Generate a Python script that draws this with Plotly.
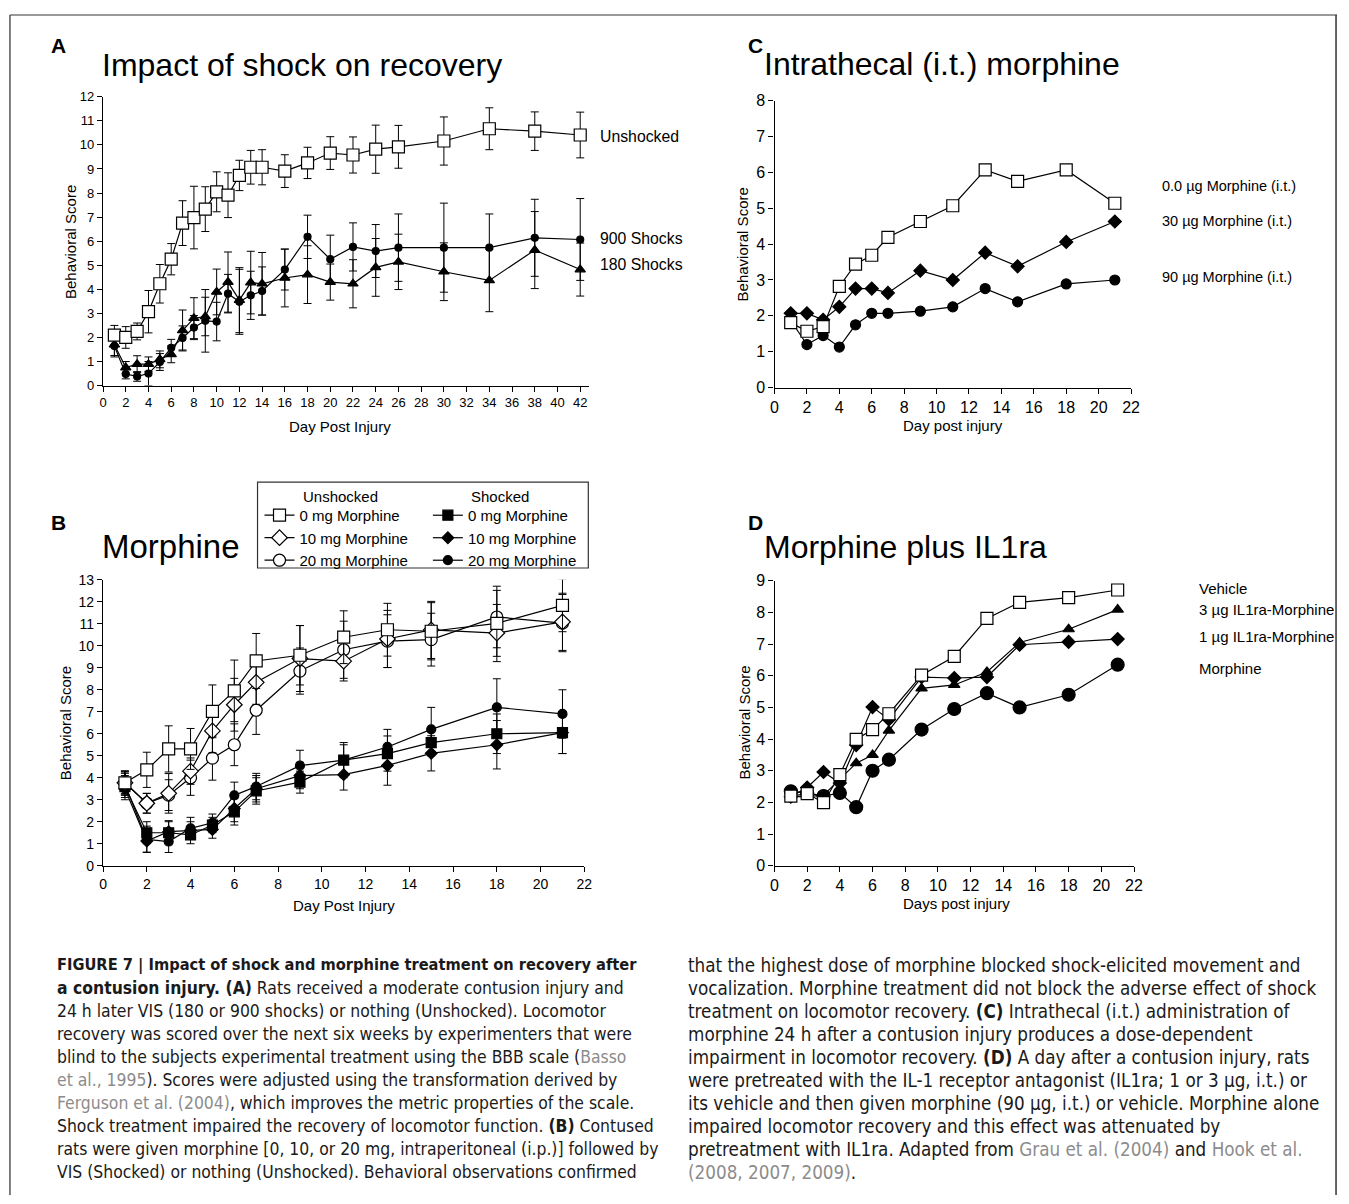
import plotly.graph_objects as go

W, H = 1349, 1204

def px(x):
    return x / W

def py(y):
    return 1 - y / H

# ---------------- DATA ----------------
# Panel A
A_days = [1, 2, 3, 4, 5, 6, 7, 8, 9, 10, 11, 12, 13, 14, 16, 18, 20, 22, 24, 26, 30, 34, 38, 42]
A_unshocked = [2.1, 2.0, 2.25, 3.07, 4.23, 5.25, 6.75, 6.98, 7.33, 8.05, 7.91, 8.73, 9.07, 9.07,
               8.91, 9.25, 9.66, 9.58, 9.82, 9.92, 10.16, 10.67, 10.57, 10.41]
A_unshocked_err = [0.4, 0.45, 0.35, 0.88, 0.8, 0.65, 0.93, 1.3, 0.93, 0.83, 0.93, 0.63, 0.7, 0.73,
                   0.68, 0.65, 0.68, 0.75, 1.0, 0.89, 1.0, 0.87, 0.8, 0.95]
A_900 = [1.64, 0.48, 0.38, 0.5, 0.98, 1.57, 1.98, 2.41, 2.69, 2.66, 3.82, 3.48, 3.75, 3.93,
         4.82, 6.18, 5.25, 5.76, 5.59, 5.73, 5.73, 5.73, 6.14, 6.07]
A_900_err = [0.45, 0.2, 0.2, 0.5, 0.35, 0.35, 0.5, 0.5, 1.3, 0.8, 0.8, 1.35, 1.0, 1.0,
             0.85, 0.9, 1.0, 1.0, 1.1, 1.4, 1.85, 1.4, 1.6, 1.7]
A_180 = [1.7, 0.75, 0.89, 0.89, 1.09, 1.3, 2.29, 2.8, 2.87, 3.89, 4.3, 3.55, 4.28, 4.23,
         4.47, 4.61, 4.3, 4.23, 4.91, 5.14, 4.73, 4.37, 5.63, 4.82]
A_180_err = [0.45, 0.25, 0.35, 0.3, 0.35, 0.35, 0.85, 0.85, 0.8, 0.95, 1.25, 1.35, 1.3, 1.3,
             1.2, 1.2, 0.75, 1.0, 1.2, 1.15, 1.2, 1.3, 1.6, 1.1]
A_xticks = list(range(0, 43, 2))
A_yticks = list(range(0, 13))

# Panel B
B_days = [1, 2, 3, 4, 5, 6, 7, 9, 11, 13, 15, 18, 21]
B_un0 = [3.77, 4.36, 5.31, 5.31, 7.02, 7.95, 9.31, 9.57, 10.39, 10.73, 10.66, 11.02, 11.84]
B_un0_err = [0.55, 0.8, 1.05, 0.93, 1.2, 1.4, 1.25, 1.35, 1.2, 1.2, 1.3, 1.5, 1.2]
B_un10 = [3.77, 2.84, 3.29, 4.3, 6.13, 7.32, 8.34, 9.42, 9.3, 10.31, 10.72, 10.58, 11.09]
B_un10_err = [0.5, 0.45, 0.9, 0.6, 1.0, 1.2, 1.0, 1.5, 0.9, 1.3, 1.3, 1.3, 1.3]
B_un20 = [3.77, 2.84, 3.21, 4.0, 4.89, 5.5, 7.07, 8.85, 9.82, 10.21, 10.28, 11.31, 11.03]
B_un20_err = [0.5, 0.45, 0.7, 0.8, 1.0, 0.95, 1.1, 1.05, 1.3, 1.2, 1.2, 1.4, 1.3]
B_sh0 = [3.6, 1.5, 1.5, 1.4, 1.85, 2.45, 3.4, 3.8, 4.8, 5.1, 5.6, 6.0, 6.05]
B_sh0_err = [0.5, 0.5, 0.5, 0.4, 0.35, 0.6, 0.6, 0.5, 0.7, 0.8, 0.6, 0.9, 0.95]
B_sh10 = [3.5, 1.12, 1.55, 1.6, 1.65, 2.6, 3.5, 4.1, 4.14, 4.56, 5.11, 5.5, 6.05]
B_sh10_err = [0.5, 0.5, 0.5, 0.4, 0.4, 0.6, 0.6, 0.6, 0.7, 0.9, 0.8, 1.1, 0.95]
B_sh20 = [3.7, 1.2, 1.1, 1.7, 1.95, 3.2, 3.6, 4.55, 4.8, 5.4, 6.2, 7.2, 6.9]
B_sh20_err = [0.5, 0.6, 0.5, 0.5, 0.4, 0.6, 0.6, 0.7, 0.8, 0.8, 1.0, 1.3, 1.1]
B_xticks = list(range(0, 23, 2))
B_yticks = list(range(0, 14))

# Panel C
C_days = [1, 2, 3, 4, 5, 6, 7, 9, 11, 13, 15, 18, 21]
C_0 = [1.81, 1.57, 1.7, 2.82, 3.44, 3.69, 4.19, 4.63, 5.07, 6.07, 5.75, 6.07, 5.14]
C_30 = [2.07, 2.07, 1.89, 2.25, 2.76, 2.76, 2.64, 3.26, 3.0, 3.76, 3.38, 4.06, 4.63]
C_90 = [1.87, 1.2, 1.45, 1.13, 1.75, 2.07, 2.07, 2.13, 2.25, 2.76, 2.39, 2.89, 3.0]
C_xticks = list(range(0, 23, 2))
C_yticks = list(range(0, 9))

# Panel D
D_days = [1, 2, 3, 4, 5, 6, 7, 9, 11, 13, 15, 18, 21]
D_vehicle = [2.2, 2.28, 1.99, 2.88, 3.99, 4.3, 4.8, 6.02, 6.61, 7.81, 8.32, 8.47, 8.71]
D_3ug = [2.18, 2.18, 2.23, 2.72, 3.24, 3.5, 4.27, 5.6, 5.71, 6.12, 7.05, 7.47, 8.09]
D_1ug = [2.18, 2.47, 2.96, 2.61, 3.81, 5.01, 4.62, 5.96, 5.93, 5.96, 6.98, 7.07, 7.16]
D_morph = [2.35, 2.3, 2.2, 2.3, 1.85, 3.0, 3.35, 4.3, 4.95, 5.45, 5.0, 5.4, 6.35]
D_xticks = list(range(0, 23, 2))
D_yticks = list(range(0, 10))

# ---------------- FIGURE ----------------
FONT = "Liberation Sans, Arial, Helvetica, sans-serif"
CAP_FONT = "Liberation Sans Narrow, Arial Narrow, DejaVu Sans Condensed, Liberation Sans, sans-serif"
fig = go.Figure()


def add(x, y, ax, symbol, filled, size, err=None, name=None, legend=None):
    marker = dict(symbol=symbol, size=size,
                  color="black" if filled else "white",
                  line=dict(color="black", width=1.2))
    kw = {}
    if err is not None:
        kw["error_y"] = dict(type="data", array=err, visible=True, color="black",
                             thickness=1, width=4)
    fig.add_trace(go.Scatter(
        x=x, y=y, mode="lines+markers", xaxis="x" + ax, yaxis="y" + ax,
        line=dict(color="black", width=1.2), marker=marker, cliponaxis=False,
        name=name or "", showlegend=legend is not None,
        legend=legend if legend else "legend", **kw))


# Panel A (axes x1/y1)
add(A_days, A_180, "", "triangle-up", True, 9, A_180_err)
add(A_days, A_900, "", "circle", True, 7, A_900_err)
add(A_days, A_unshocked, "", "square", False, 12, A_unshocked_err)

# Panel B (axes x2/y2)
add(B_days, B_sh0, "2", "square", True, 10, B_sh0_err, "0 mg Morphine", "legend2")
add(B_days, B_sh10, "2", "diamond", True, 9, B_sh10_err, "10 mg Morphine", "legend2")
add(B_days, B_sh20, "2", "circle", True, 9, B_sh20_err, "20 mg Morphine", "legend2")
add(B_days, B_un20, "2", "circle", False, 12, B_un20_err, "20 mg Morphine", "legend")
add(B_days, B_un10, "2", "diamond", False, 12, B_un10_err, "10 mg Morphine", "legend")
add(B_days, B_un0, "2", "square", False, 12, B_un0_err, "0 mg Morphine", "legend")

# Panel C (axes x3/y3)
add(C_days, C_90, "3", "circle", True, 10)
add(C_days, C_30, "3", "diamond", True, 10)
add(C_days, C_0, "3", "square", False, 12)

# Panel D (axes x4/y4)
add(D_days, D_morph, "4", "circle", True, 13)
add(D_days, D_1ug, "4", "diamond", True, 10)
add(D_days, D_3ug, "4", "triangle-up", True, 10)
add(D_days, D_vehicle, "4", "square", False, 12)


def axis(domain, rng, ticks, size):
    return dict(domain=domain, range=rng, tickvals=ticks, ticktext=[str(t) for t in ticks],
                showline=True, linecolor="black", linewidth=1.2, ticks="outside",
                ticklen=5, tickwidth=1.2, tickcolor="black", showgrid=False,
                zeroline=False, tickfont=dict(family=FONT, size=size, color="black"),
                fixedrange=True)


layout = dict(
    width=W, height=H, autosize=False,
    margin=dict(l=0, r=0, t=0, b=0),
    paper_bgcolor="white", plot_bgcolor="white",
    font=dict(family=FONT, color="black"),
    xaxis=axis([px(100), px(591)], [0, 42.8], A_xticks, 13),
    yaxis=axis([py(383), py(90)], [0, 12], A_yticks, 13),
    xaxis2=axis([px(100), px(586)], [0, 22], B_xticks, 14),
    yaxis2=axis([py(870), py(580)], [0, 13], B_yticks, 14),
    xaxis3=axis([px(778), px(1138)], [0, 22], C_xticks, 16),
    yaxis3=axis([py(385), py(94)], [0, 8], C_yticks, 16),
    xaxis4=axis([px(778), px(1141)], [0, 22], D_xticks, 16),
    yaxis4=axis([py(870), py(581)], [0, 9], D_yticks, 16),
    legend=dict(x=px(258), y=py(498), xanchor="left", yanchor="top",
                bgcolor="rgba(0,0,0,0)", font=dict(family=FONT, size=15),
                tracegroupgap=0, itemwidth=30, traceorder="reversed"),
    legend2=dict(x=px(428), y=py(498), xanchor="left", yanchor="top",
                 bgcolor="rgba(0,0,0,0)", font=dict(family=FONT, size=15),
                 tracegroupgap=0, itemwidth=30, traceorder="normal"),
)
for k in ["xaxis2", "xaxis3", "xaxis4"]:
    layout[k]["anchor"] = "y" + k[-1]
for k in ["yaxis2", "yaxis3", "yaxis4"]:
    layout[k]["anchor"] = "x" + k[-1]
layout["xaxis"]["anchor"] = "y"
layout["yaxis"]["anchor"] = "x"
fig.update_layout(**layout)

ann = []


def text(x, y, s, size, xanchor="left", bold=False, angle=0, family=FONT, color="black"):
    ann.append(dict(x=px(x), y=py(y), xref="paper", yref="paper", text=("<b>%s</b>" % s) if bold else s,
                    showarrow=False, xanchor=xanchor, yanchor="middle", textangle=angle,
                    font=dict(family=family, size=size, color=color)))


# Panel letters and titles
text(45, 38, "A", 21, bold=True)
text(45, 522, "B", 21, bold=True)
text(749, 38, "C", 21, bold=True)
text(749, 522, "D", 21, bold=True)
text(97, 58, "Impact of shock on recovery", 32)
text(97, 546, "Morphine", 33)
text(765, 57, "Intrathecal (i.t.) morphine", 32)
text(765, 547, "Morphine plus IL1ra", 32)

# Axis titles
text(67, 237, "Behavioral Score", 15, xanchor="center", angle=-90)
text(339, 424, "Day Post Injury", 15, xanchor="center")
text(62, 725, "Behavioral Score", 15, xanchor="center", angle=-90)
text(343, 910, "Day Post Injury", 15, xanchor="center")
text(746, 240, "Behavioral Score", 15, xanchor="center", angle=-90)
text(958, 423, "Day post injury", 15, xanchor="center")
text(748, 725, "Behavioral Score", 15, xanchor="center", angle=-90)
text(962, 908, "Days post injury", 15, xanchor="center")

# Direct labels
text(600, 130, "Unshocked", 15.8)
text(600, 234, "900 Shocks", 15.8)
text(600, 260, "180 Shocks", 15.8)
text(1167, 181, "0.0 µg Morphine (i.t.)", 14.5)
text(1167, 216, "30 µg Morphine (i.t.)", 14.5)
text(1167, 273, "90 µg Morphine (i.t.)", 14.5)
text(1205, 589, "Vehicle", 15)
text(1205, 610, "3 µg IL1ra-Morphine", 15)
text(1205, 638, "1 µg IL1ra-Morphine", 15)
text(1205, 670, "Morphine", 15)

# Legend headers for B
text(300, 496, "Unshocked", 15)
text(470, 496, "Shocked", 15)

# Caption
G = '<span style="color:#8c8c8c">%s</span>'
left_lines = [
    "<b>FIGURE 7 | Impact of shock and morphine treatment on recovery after</b>",
    "<b>a contusion injury. (A)</b> Rats received a moderate contusion injury and",
    "24 h later VIS (180 or 900 shocks) or nothing (Unshocked). Locomotor",
    "recovery was scored over the next six weeks by experimenters that were",
    "blind to the subjects experimental treatment using the BBB scale (" + G % "Basso",
    G % "et al., 1995" + "). Scores were adjusted using the transformation derived by",
    G % "Ferguson et al. (2004)" + ", which improves the metric properties of the scale.",
    "Shock treatment impaired the recovery of locomotor function. <b>(B)</b> Contused",
    "rats were given morphine [0, 10, or 20 mg, intraperitoneal (i.p.)] followed by",
    "VIS (Shocked) or nothing (Unshocked). Behavioral observations confirmed",
]
right_lines = [
    "that the highest dose of morphine blocked shock-elicited movement and",
    "vocalization. Morphine treatment did not block the adverse effect of shock",
    "treatment on locomotor recovery. <b>(C)</b> Intrathecal (i.t.) administration of",
    "morphine 24 h after a contusion injury produces a dose-dependent",
    "impairment in locomotor recovery. <b>(D)</b> A day after a contusion injury, rats",
    "were pretreated with the IL-1 receptor antagonist (IL1ra; 1 or 3 μg, i.t.) or",
    "its vehicle and then given morphine (90 μg, i.t.) or vehicle. Morphine alone",
    "impaired locomotor recovery and this effect was attenuated by",
    "pretreatment with IL1ra. Adapted from " + G % "Grau et al. (2004)" + " and " + G % "Hook et al.",
    G % "(2008, 2007, 2009)" + ".",
]
for i, s in enumerate(left_lines):
    size = 16.3 if i == 0 else 17.4
    text(52, 971 + i * 23.3, s, size, family=CAP_FONT, color="#1a1a1a")
for i, s in enumerate(right_lines):
    text(689, 971 + i * 23.3, s, 18.7, family=CAP_FONT, color="#1a1a1a")

fig.update_layout(annotations=ann)

# Shapes: legend box and outer frame
shapes = [
    dict(type="rect", xref="paper", yref="paper", x0=px(256), x1=px(590), y0=py(568), y1=py(481),
         line=dict(color="#333", width=1.2)),
    dict(type="line", xref="paper", yref="paper", x0=px(6), x1=px(1346), y0=py(7), y1=py(7),
         line=dict(color="#777", width=1.5)),
    dict(type="line", xref="paper", yref="paper", x0=px(6), x1=px(6), y0=py(7), y1=0,
         line=dict(color="#555", width=1.5)),
    dict(type="line", xref="paper", yref="paper", x0=px(1345), x1=px(1345), y0=py(7), y1=0,
         line=dict(color="#333", width=1.5)),
]
fig.update_layout(shapes=shapes)

POST = (
    "document.documentElement.style.margin='0';"
    "document.documentElement.style.overflow='hidden';"
    "document.body.style.margin='0';"
    "document.body.style.overflow='hidden';"
    "var d=document.getElementById('{plot_id}');"
    "d.style.position='fixed';d.style.left='0px';d.style.top='0px';"
)

fig.write_html("out.html", config={"displayModeBar": False}, post_script=POST)
